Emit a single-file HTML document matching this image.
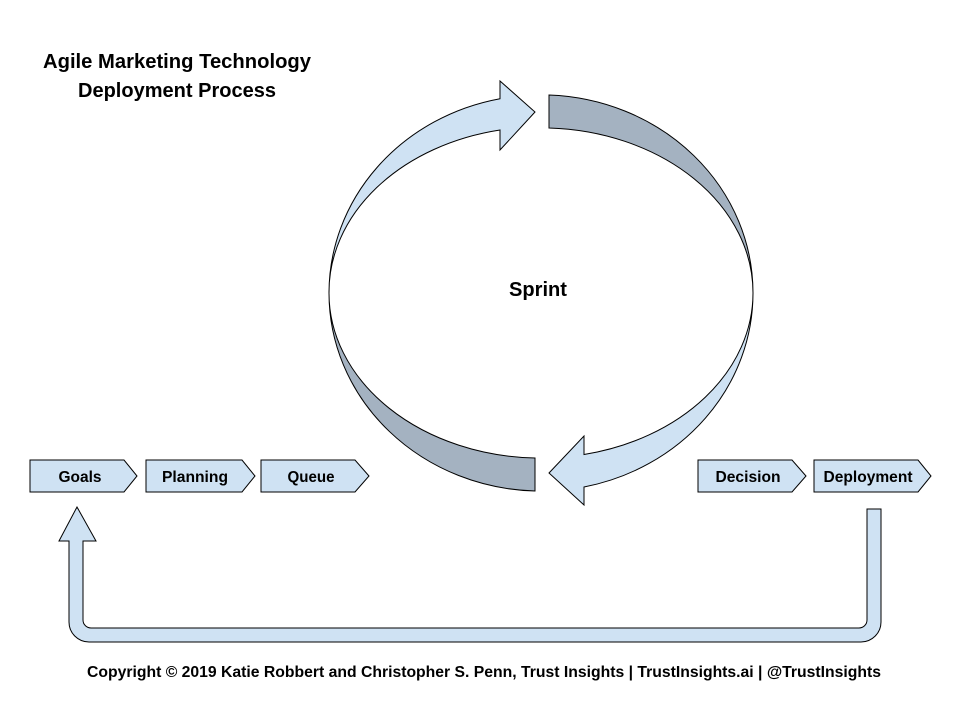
<!DOCTYPE html>
<html><head><meta charset="utf-8"><style>
html,body{margin:0;padding:0;background:#fff;}
svg{display:block;}
text{font-family:"Liberation Sans",sans-serif;font-weight:bold;fill:#000;}
</style></head><body>
<svg width="960" height="720" viewBox="0 0 960 720" xmlns="http://www.w3.org/2000/svg">
<rect width="960" height="720" fill="#fff"/>
<text x="177" y="68" font-size="20" text-anchor="middle" textLength="268" lengthAdjust="spacingAndGlyphs">Agile Marketing Technology</text>
<text x="177" y="97" font-size="20" text-anchor="middle" textLength="198" lengthAdjust="spacingAndGlyphs">Deployment Process</text>

<g stroke="#000" stroke-width="1" stroke-linejoin="miter">
<path d="M 329 293 A 212 198 0 0 1 500 98.7 L 500 81 L 535 112 L 500 150 L 500 130 A 212 165 0 0 0 329 293 Z" fill="#cfe2f3"/>
<path d="M 549 95 A 212 198 0 0 1 753 293 A 212 165 0 0 0 549 128 Z" fill="#a4b2c1"/>
<path d="M 753 293 A 212 198 0 0 1 584 487 L 584 505 L 549 473 L 584 436 L 584 454.5 A 212 165 0 0 0 753 293 Z" fill="#cfe2f3"/>
<path d="M 329 293 A 212 165 0 0 0 535 458 L 535 491 A 212 198 0 0 1 329 293 Z" fill="#a4b2c1"/>

<path d="M30 460 H124 L137 476 L124 492 H30 Z" fill="#cfe2f3"/>
<path d="M146 460 H242 L255 476 L242 492 H146 Z" fill="#cfe2f3"/>
<path d="M261 460 H355 L369 476 L355 492 H261 Z" fill="#cfe2f3"/>
<path d="M698 460 H792 L806 476 L792 492 H698 Z" fill="#cfe2f3"/>
<path d="M814 460 H918 L931 476 L918 492 H814 Z" fill="#cfe2f3"/>

<path d="M 867 509 L 881 509 L 881 622 A 20 20 0 0 1 861 642 L 89 642 A 20 20 0 0 1 69 622 L 69 541 L 59 541 L 77 507 L 96 541 L 83 541 L 83 620 A 8 8 0 0 0 91 628 L 859 628 A 8 8 0 0 0 867 620 Z" fill="#cfe2f3"/>
</g>

<text x="538" y="296" font-size="20" text-anchor="middle" textLength="58" lengthAdjust="spacingAndGlyphs">Sprint</text>
<text x="80" y="482" font-size="16" text-anchor="middle" textLength="43" lengthAdjust="spacingAndGlyphs">Goals</text>
<text x="195" y="482" font-size="16" text-anchor="middle" textLength="66" lengthAdjust="spacingAndGlyphs">Planning</text>
<text x="311" y="482" font-size="16" text-anchor="middle" textLength="47" lengthAdjust="spacingAndGlyphs">Queue</text>
<text x="748" y="482" font-size="16" text-anchor="middle" textLength="65" lengthAdjust="spacingAndGlyphs">Decision</text>
<text x="868" y="482" font-size="16" text-anchor="middle" textLength="89" lengthAdjust="spacingAndGlyphs">Deployment</text>

<text x="484" y="677" font-size="16" text-anchor="middle" textLength="794" lengthAdjust="spacingAndGlyphs">Copyright © 2019 Katie Robbert and Christopher S. Penn, Trust Insights | TrustInsights.ai | @TrustInsights</text>
</svg>
</body></html>
